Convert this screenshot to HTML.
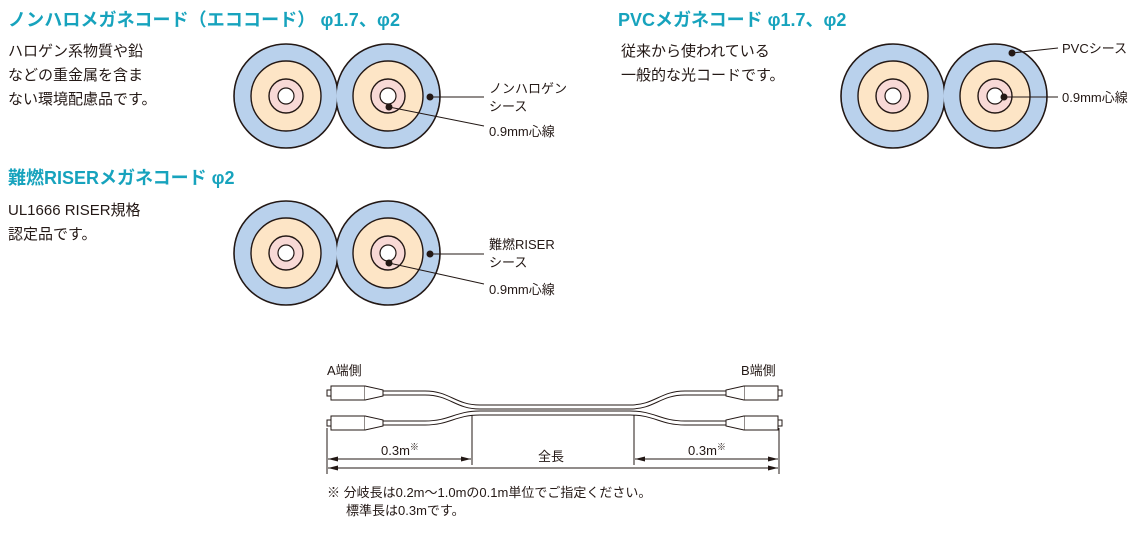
<!DOCTYPE html>
<html><head><meta charset="utf-8"><style>
body{margin:0;background:#fff;}
svg{display:block;font-family:"Liberation Sans","Noto Sans CJK JP",sans-serif;}
.t{fill:#17a3bd;font-size:18px;font-weight:bold;}
.b{fill:#231815;font-size:15px;}
.l{fill:#231815;font-size:13px;}
</style></head><body>
<svg width="1148" height="535" viewBox="0 0 1148 535" xmlns="http://www.w3.org/2000/svg">
<defs>
<g id="in">
<circle r="35" fill="#fde5c6" stroke="#231815" stroke-width="1.4"/>
<circle r="17" fill="#f8d9d6" stroke="#231815" stroke-width="1.4"/>
<circle r="8" fill="#fff" stroke="#231815" stroke-width="1.2"/>
</g>
<g id="pair">
<circle cx="0" r="52" fill="#b9d1ec" stroke="#231815" stroke-width="1.6"/>
<circle cx="102" r="52" fill="#b9d1ec" stroke="#231815" stroke-width="1.6"/>
<circle cx="0" r="51" fill="#b9d1ec"/>
<circle cx="102" r="51" fill="#b9d1ec"/>
<use href="#in" x="0"/><use href="#in" x="102"/>
</g>
<g id="conn">
<rect x="-3" y="-3" width="4" height="6" fill="#fff" stroke="#231815" stroke-width="1"/>
<rect x="1" y="-7" width="34" height="14" fill="#fff" stroke="#231815" stroke-width="1"/>
<path d="M35 -7 L53 -3 L53 3 L35 7" fill="#fff" stroke="#231815" stroke-width="1"/>
</g>
</defs>

<text class="t" x="8" y="26" textLength="392">ノンハロメガネコード（エココード） φ1.7、φ2</text>
<text class="b" x="8" y="56">ハロゲン系物質や鉛</text>
<text class="b" x="8" y="80">などの重金属を含ま</text>
<text class="b" x="8" y="104">ない環境配慮品です。</text>

<use href="#pair" x="286" y="96"/>
<circle cx="430" cy="97" r="3.5" fill="#231815"/>
<line x1="430" y1="97" x2="484" y2="97" stroke="#231815" stroke-width="1"/>
<circle cx="389" cy="107" r="3.5" fill="#231815"/>
<line x1="389" y1="107" x2="484" y2="126" stroke="#231815" stroke-width="1"/>
<text class="l" x="489" y="93">ノンハロゲン</text>
<text class="l" x="489" y="111">シース</text>
<text class="l" x="489" y="136">0.9mm心線</text>

<text class="t" x="618" y="26">PVCメガネコード  φ1.7、φ2</text>
<text class="b" x="621" y="56">従来から使われている</text>
<text class="b" x="621" y="80">一般的な光コードです。</text>

<use href="#pair" x="893" y="96"/>
<circle cx="1012" cy="53" r="3.5" fill="#231815"/>
<line x1="1012" y1="53" x2="1058" y2="48" stroke="#231815" stroke-width="1"/>
<circle cx="1004" cy="97" r="3.5" fill="#231815"/>
<line x1="1004" y1="97" x2="1058" y2="97" stroke="#231815" stroke-width="1"/>
<text class="l" x="1062" y="53">PVCシース</text>
<text class="l" x="1062" y="102">0.9mm心線</text>

<text class="t" x="8" y="184">難燃RISERメガネコード  φ2</text>
<text class="b" x="8" y="215">UL1666 RISER規格</text>
<text class="b" x="8" y="239">認定品です。</text>

<use href="#pair" x="286" y="253"/>
<circle cx="430" cy="254" r="3.5" fill="#231815"/>
<line x1="430" y1="254" x2="484" y2="254" stroke="#231815" stroke-width="1"/>
<circle cx="389" cy="263" r="3.5" fill="#231815"/>
<line x1="389" y1="263" x2="484" y2="284" stroke="#231815" stroke-width="1"/>
<text class="l" x="489" y="249">難燃RISER</text>
<text class="l" x="489" y="267">シース</text>
<text class="l" x="489" y="294">0.9mm心線</text>

<text class="l" x="327" y="375">A端側</text>
<text class="l" x="741" y="375">B端側</text>
<g fill="none" stroke="#231815" stroke-width="1">
<path d="M382 391 L425 391 C450 391 455 405 480 405 L630 405 C655 405 660 391 685 391 L727 391"/>
<path d="M382 395 L425 395 C450 395 455 409 480 409 L630 409 C655 409 660 395 685 395 L727 395"/>
<path d="M382 421 L425 421 C450 421 455 411 480 411 L630 411 C655 411 660 421 685 421 L727 421"/>
<path d="M382 425 L425 425 C450 425 455 415 480 415 L630 415 C655 415 660 425 685 425 L727 425"/>
</g>
<use href="#conn" x="330" y="393"/>
<use href="#conn" x="330" y="423"/>
<use href="#conn" transform="translate(779,393) scale(-1,1)"/>
<use href="#conn" transform="translate(779,423) scale(-1,1)"/>
<g stroke="#231815" stroke-width="1">
<line x1="327" y1="428" x2="327" y2="474"/>
<line x1="472" y1="415" x2="472" y2="465"/>
<line x1="634" y1="415" x2="634" y2="465"/>
<line x1="779" y1="428" x2="779" y2="474"/>
<line x1="328" y1="459" x2="471" y2="459"/>
<line x1="635" y1="459" x2="778" y2="459"/>
<line x1="328" y1="468" x2="778" y2="468"/>
</g>
<g fill="#231815">
<path d="M328 459 l10 -2.5 v5z"/><path d="M471 459 l-10 -2.5 v5z"/>
<path d="M635 459 l10 -2.5 v5z"/><path d="M778 459 l-10 -2.5 v5z"/>
<path d="M328 468 l10 -2.5 v5z"/><path d="M778 468 l-10 -2.5 v5z"/>
</g>
<text class="l" x="381" y="455" font-size="14">0.3m<tspan font-size="9" dy="-5">※</tspan></text>
<text class="l" x="538" y="461" font-size="14">全長</text>
<text class="l" x="688" y="455" font-size="14">0.3m<tspan font-size="9" dy="-5">※</tspan></text>
<text class="l" x="327" y="497">※ 分岐長は0.2m～1.0mの0.1m単位でご指定ください。</text>
<text class="l" x="346" y="515">標準長は0.3mです。</text>
</svg>
</body></html>
